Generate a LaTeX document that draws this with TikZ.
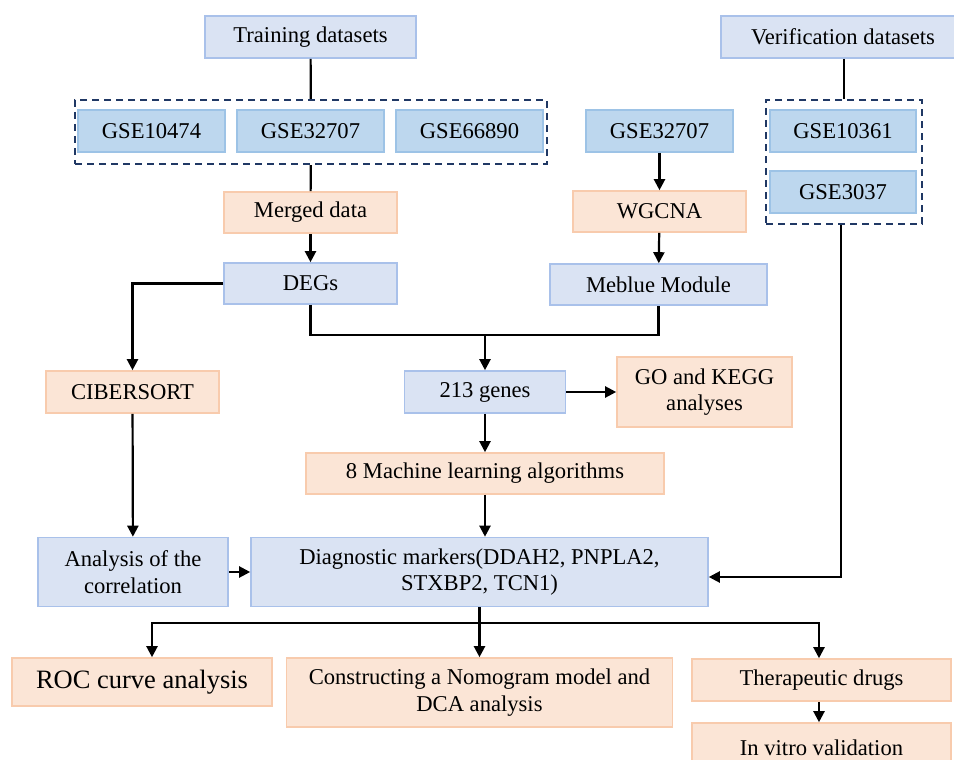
\documentclass[tikz,border=0pt]{standalone}
\usepackage{fontspec}
\setmainfont{Liberation Serif}
\usetikzlibrary{arrows.meta}

\definecolor{bluefill}{HTML}{DAE3F3}
\definecolor{blueline}{HTML}{A9C1EA}
\definecolor{gsefill}{HTML}{BDD7EE}
\definecolor{gseline}{HTML}{9DC3E6}
\definecolor{orangefill}{HTML}{FBE5D6}
\definecolor{orangeline}{HTML}{F8CBAD}
\definecolor{navy}{HTML}{203864}

\begin{document}
\begin{tikzpicture}[x=1pt,y=-1pt]

\def\boxh{42pt}
\def\gsew{147pt}

\tikzstyle{plain}=[rectangle,fill=bluefill,draw=blueline,line width=1.6pt,inner sep=0pt,minimum height=\boxh,align=center,font=\fontsize{22.6}{26.5}\selectfont]
\tikzstyle{gse}=[plain,fill=gsefill,draw=gseline,minimum width=\gsew]
\tikzstyle{method}=[plain,fill=orangefill,draw=orangeline]
\tikzstyle{group}=[rectangle,draw=navy,line width=2.2pt,dash pattern=on 7pt off 5pt,inner sep=0pt]
\tikzstyle{link}=[line width=2.2pt]
\tikzstyle{arrow}=[link,-{Triangle[length=11pt,width=11pt]}]

\useasboundingbox (0,0) rectangle (954,760);
\clip (0,0) rectangle (954,760);

%datasets
\node[plain,minimum width=211pt] (train) at (310.5,37) {Training datasets};
\node[plain,minimum width=244pt] (verif) at (843,37) {Verification datasets};

\node[group,minimum width=472pt,minimum height=64pt] (trainset) at (311,132) {};
\node[gse] (g1) at (151.5,131) {GSE10474};
\node[gse] (g2) at (310.5,131) {GSE32707};
\node[gse] (g3) at (469.5,131) {GSE66890};
\node[gse] (g4) at (659.5,131) {GSE32707};

\node[group,minimum width=156pt,minimum height=124pt] (verifset) at (844,162) {};
\node[gse,minimum width=146pt] (g5) at (843,131) {GSE10361};
\node[gse,minimum width=146pt] (g6) at (843,192) {GSE3037};

%first steps
\node[method,minimum width=173pt,minimum height=41pt] (merged) at (310.5,212.5) {Merged data};
\node[method,minimum width=173pt,minimum height=41pt] (wgcna) at (659.5,211.5) {WGCNA};
\node[plain,minimum width=173pt,minimum height=41pt] (degs) at (310.5,283.5) {DEGs};
\node[plain,minimum width=217pt,minimum height=41pt] (meblue) at (658.5,284.5) {Meblue Module};

%middle
\node[method,minimum width=173pt] (cibersort) at (132.5,392) {CIBERSORT};
\node[plain,minimum width=161pt] (genes) at (485,392) {213 genes};
\node[method,minimum width=175pt,minimum height=70pt] (gokegg) at (704.5,392) {GO and KEGG\\analyses};
\node[method,minimum width=358pt,minimum height=41pt] (ml) at (485,473.5) {8 Machine learning algorithms};

\node[plain,minimum width=190pt,minimum height=69pt] (corr) at (133,572) {Analysis of the\\correlation};
\node[plain,minimum width=457pt,minimum height=69pt] (diag) at (479.5,572) {Diagnostic markers(DDAH2, PNPLA2,\\STXBP2, TCN1)};

%outcomes
\node[method,minimum width=260pt,minimum height=48pt,font=\fontsize{26.5}{30}\selectfont] (roc) at (142,682) {ROC curve analysis};
\node[method,minimum width=386pt,minimum height=69pt] (nomo) at (479.5,692.5) {Constructing a Nomogram model and\\DCA analysis};
\node[method,minimum width=259pt] (drugs) at (821.5,680) {Therapeutic drugs};
\node[method,minimum width=259pt,minimum height=50pt] (vitro) at (821.5,748) {In vitro validation};

\draw[link] (train) -- (trainset);
\draw[link] (trainset) -- (merged);
\draw[arrow] (merged) -- (degs);
\draw[arrow] (g4) -- (wgcna);
\draw[arrow] (wgcna) -- (meblue);
\draw[link] (verif.south -| verifset.north) -- (verifset.north);

\draw[arrow] (degs.west) -| (cibersort.north);
\draw[arrow] (cibersort) -- (corr);
\draw[arrow] (corr) -- (diag);

\coordinate (join) at (485,335);
\draw[link] (degs.south) |- (join) -| (meblue.south);
\draw[arrow] (join) -- (genes);
\draw[arrow] (genes) -- (gokegg);
\draw[arrow] (genes) -- (ml);
\draw[arrow] (ml) -- (ml |- diag.north);

\draw[arrow] ([xshift=-3pt]verifset.south) |- ([yshift=-5pt]diag.east);

% results
\coordinate (split) at (479.5,623);
\draw[link] (diag.south) -- (split);
\draw[arrow] (split) -- (nomo);
\draw[arrow] (split) -| ([xshift=10pt]roc.north);
\draw[arrow] (split) -| ([xshift=-2.5pt]drugs.north);
\draw[arrow] ([xshift=-2.5pt]drugs.south) -- ([xshift=-2.5pt]vitro.north);

\end{tikzpicture}
\end{document}
